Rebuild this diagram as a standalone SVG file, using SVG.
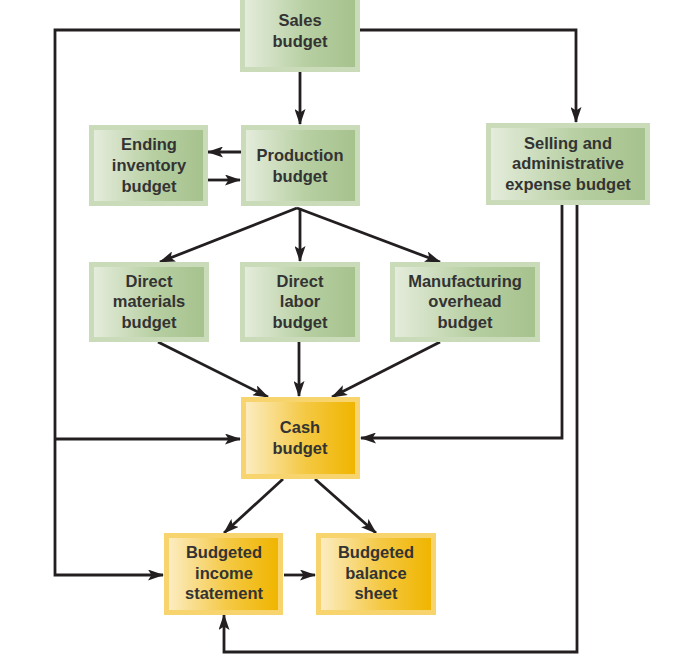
<svg xmlns="http://www.w3.org/2000/svg" width="690" height="655" viewBox="0 0 690 655">
<defs>
<linearGradient id="gG" x1="0" y1="0" x2="1" y2="0">
<stop offset="0" stop-color="#e4ecdb"/>
<stop offset="0.55" stop-color="#b7cfa2"/>
<stop offset="1" stop-color="#a6c28d"/>
</linearGradient>
<linearGradient id="gY" x1="0" y1="0" x2="1" y2="0">
<stop offset="0" stop-color="#fcecc0"/>
<stop offset="0.55" stop-color="#f4c842"/>
<stop offset="1" stop-color="#f0b500"/>
</linearGradient>
<marker id="ah" viewBox="0 0 16 11" refX="15" refY="5.5" markerWidth="16" markerHeight="11" markerUnits="userSpaceOnUse" orient="auto">
<path d="M0,0 L16,5.5 L0,11 L3.5,5.5 Z" fill="#231f20"/>
</marker>
<style>
.og{fill:#c9dbb8}
.ig{fill:url(#gG)}
.oy{fill:#f8d46e}
.iy{fill:url(#gY)}
.t{font-family:"Liberation Sans",Arial,sans-serif;font-weight:bold;font-size:16.5px;fill:#333;text-anchor:middle}
.c{fill:none;stroke:#231f20;stroke-width:2.8;marker-end:url(#ah)}
</style>
</defs>
<g id="connectors">
<path class="c" d="M240,30 H55 V575 H163"/>
<path class="c" d="M55,439 H240"/>
<path class="c" d="M360,30 H576 V122"/>
<path class="c" d="M562,205 V438 H361"/>
<path class="c" d="M577,205 V652 H224 V615"/>
<path class="c" d="M300,72 V124"/>
<path class="c" d="M241,152 H208"/>
<path class="c" d="M208,180 H240"/>
<path class="c" d="M297,208 L160,262"/>
<path class="c" d="M300,208 V261"/>
<path class="c" d="M297,208 L440,262"/>
<path class="c" d="M158,342 L268,397"/>
<path class="c" d="M299,342 V396"/>
<path class="c" d="M440,342 L332,397"/>
<path class="c" d="M283,479 L224,533"/>
<path class="c" d="M315,479 L376,533"/>
<path class="c" d="M284,575 H315"/>
</g>
<g id="sales">
<rect class="og" x="240" y="0" width="120" height="72"/>
<rect class="ig" x="245" y="0" width="110" height="67"/>
<text class="t" x="300" y="26">Sales</text>
<text class="t" x="300" y="47">budget</text>
</g>
<g id="production">
<rect class="og" x="241" y="125" width="119" height="81"/>
<rect class="ig" x="246" y="130" width="109" height="71"/>
<text class="t" x="300" y="161">Production</text>
<text class="t" x="300" y="182">budget</text>
</g>
<g id="ending">
<rect class="og" x="89" y="125" width="119" height="81"/>
<rect class="ig" x="94" y="130" width="109" height="71"/>
<text class="t" x="149" y="150">Ending</text>
<text class="t" x="149" y="171">inventory</text>
<text class="t" x="149" y="192">budget</text>
</g>
<g id="selling">
<rect class="og" x="486" y="123" width="164" height="82"/>
<rect class="ig" x="491" y="128" width="154" height="72"/>
<text class="t" x="568" y="149">Selling and</text>
<text class="t" x="568" y="169">administrative</text>
<text class="t" x="568" y="190">expense budget</text>
</g>
<g id="materials">
<rect class="og" x="89" y="262" width="120" height="80"/>
<rect class="ig" x="94" y="267" width="110" height="70"/>
<text class="t" x="149" y="287">Direct</text>
<text class="t" x="149" y="307">materials</text>
<text class="t" x="149" y="328">budget</text>
</g>
<g id="labor">
<rect class="og" x="240" y="262" width="120" height="80"/>
<rect class="ig" x="245" y="267" width="110" height="70"/>
<text class="t" x="300" y="287">Direct</text>
<text class="t" x="300" y="307">labor</text>
<text class="t" x="300" y="328">budget</text>
</g>
<g id="overhead">
<rect class="og" x="390" y="262" width="150" height="80"/>
<rect class="ig" x="395" y="267" width="140" height="70"/>
<text class="t" x="465" y="287">Manufacturing</text>
<text class="t" x="465" y="307">overhead</text>
<text class="t" x="465" y="328">budget</text>
</g>
<g id="cash">
<rect class="oy" x="241" y="397" width="119" height="82"/>
<rect class="iy" x="246" y="402" width="109" height="72"/>
<text class="t" x="300" y="433">Cash</text>
<text class="t" x="300" y="454">budget</text>
</g>
<g id="income">
<rect class="oy" x="164" y="533" width="119" height="82"/>
<rect class="iy" x="169" y="538" width="109" height="72"/>
<text class="t" x="224" y="558">Budgeted</text>
<text class="t" x="224" y="579">income</text>
<text class="t" x="224" y="599">statement</text>
</g>
<g id="balance">
<rect class="oy" x="316" y="533" width="120" height="82"/>
<rect class="iy" x="321" y="538" width="110" height="72"/>
<text class="t" x="376" y="558">Budgeted</text>
<text class="t" x="376" y="579">balance</text>
<text class="t" x="376" y="599">sheet</text>
</g>
</svg>
